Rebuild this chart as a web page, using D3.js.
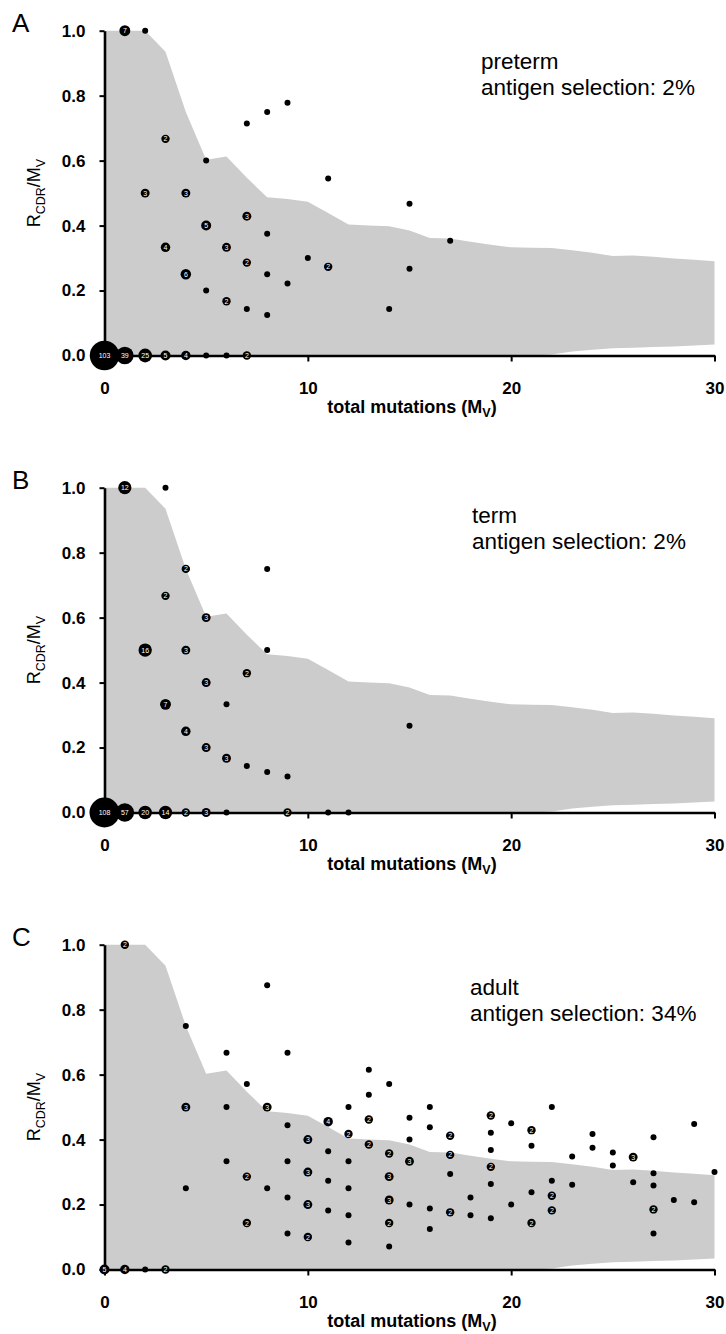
<!DOCTYPE html>
<html>
<head>
<meta charset="utf-8">
<script src="https://d3js.org/d3.v7.min.js"></script>
<style>
body { margin: 0; background: #fff; }
svg { display: block; font-family: "Liberation Sans", Arial, Helvetica, sans-serif; }
</style>
</head>
<body>
<div id="chart"></div>
<script>
// axis ticks
const mutationTicks = [0, 10, 20, 30];
const ratioTicks = [0, 0.2, 0.4, 0.6, 0.8, 1.0];

// grey band (expected range without selection), same in every panel
const bandMutations = [0, 1, 2, 3, 4, 5, 6, 7, 8, 9, 10, 11, 12, 13, 14, 15, 16, 17, 18, 19, 20, 21, 22, 23, 24, 25, 26, 27, 28, 29, 30];
const bandUpper = [1, 1, 1, 0.935, 0.75, 0.603, 0.613, 0.547, 0.487, 0.482, 0.473, 0.439, 0.403, 0.4, 0.398, 0.385, 0.362, 0.36, 0.35, 0.341, 0.333, 0.332, 0.331, 0.324, 0.316, 0.306, 0.308, 0.304, 0.299, 0.295, 0.29];
const bandLower = [0, 0, 0, 0, 0, 0, 0, 0, 0, 0, 0, 0, 0, 0, 0, 0, 0, 0, 0, 0, 0, 0, 0.003, 0.012, 0.018, 0.022, 0.024, 0.026, 0.028, 0.031, 0.034];

// panel titles
const panelLetters = ["A", "B", "C"];
const panelGroups = ["preterm", "term", "adult"];
const panelSelection = ["2%", "2%", "34%"];

// points: [total mutations, R_CDR/M_V, number of sequences]
const pretermPoints = [
  [0, 0, 103], [1, 0, 39], [2, 0, 25], [3, 0, 5], [4, 0, 4], [5, 0, 1], [6, 0, 1], [7, 0, 2],
  [1, 1, 7], [2, 1, 1],
  [2, 0.5, 3], [3, 0.667, 2], [3, 0.333, 4], [4, 0.5, 3], [4, 0.25, 6],
  [5, 0.6, 1], [5, 0.4, 5], [5, 0.2, 1],
  [6, 0.333, 3], [6, 0.167, 2],
  [7, 0.714, 1], [7, 0.429, 3], [7, 0.286, 2], [7, 0.143, 1],
  [8, 0.75, 1], [8, 0.375, 1], [8, 0.25, 1], [8, 0.125, 1],
  [9, 0.778, 1], [9, 0.222, 1],
  [10, 0.3, 1],
  [11, 0.545, 1], [11, 0.273, 2],
  [14, 0.143, 1],
  [15, 0.467, 1], [15, 0.267, 1],
  [17, 0.353, 1]
];

const termPoints = [
  [0, 0, 108], [1, 0, 57], [2, 0, 20], [3, 0, 14], [4, 0, 2], [5, 0, 3], [6, 0, 1], [9, 0, 2], [11, 0, 1], [12, 0, 1],
  [1, 1, 12], [3, 1, 1],
  [2, 0.5, 16], [3, 0.667, 2], [3, 0.333, 7],
  [4, 0.75, 2], [4, 0.5, 3], [4, 0.25, 4],
  [5, 0.6, 3], [5, 0.4, 3], [5, 0.2, 3],
  [6, 0.333, 1], [6, 0.167, 3],
  [7, 0.429, 2], [7, 0.143, 1],
  [8, 0.75, 1], [8, 0.5, 1], [8, 0.125, 1],
  [9, 0.111, 1],
  [15, 0.267, 1]
];

const adultPoints = [
  [0, 0, 5], [1, 0, 4], [2, 0, 1], [3, 0, 2],
  [1, 1, 2],
  [4, 0.75, 1], [4, 0.5, 3], [4, 0.25, 1],
  [6, 0.667, 1], [6, 0.5, 1], [6, 0.333, 1],
  [7, 0.571, 1], [7, 0.286, 2], [7, 0.143, 2],
  [8, 0.875, 1], [8, 0.5, 3], [8, 0.25, 1],
  [9, 0.667, 1], [9, 0.444, 1], [9, 0.333, 1], [9, 0.222, 1], [9, 0.111, 1],
  [10, 0.4, 3], [10, 0.3, 3], [10, 0.2, 3], [10, 0.1, 2],
  [11, 0.455, 4], [11, 0.364, 1], [11, 0.273, 1], [11, 0.182, 1],
  [12, 0.5, 1], [12, 0.417, 2], [12, 0.333, 1], [12, 0.25, 1], [12, 0.167, 1], [12, 0.083, 1],
  [13, 0.615, 1], [13, 0.538, 1], [13, 0.462, 2], [13, 0.385, 2],
  [14, 0.571, 1], [14, 0.357, 2], [14, 0.286, 3], [14, 0.214, 3], [14, 0.143, 2], [14, 0.071, 1],
  [15, 0.467, 1], [15, 0.4, 1], [15, 0.333, 3], [15, 0.2, 1],
  [16, 0.5, 1], [16, 0.438, 1], [16, 0.188, 1], [16, 0.125, 1],
  [17, 0.412, 2], [17, 0.353, 2], [17, 0.294, 1], [17, 0.176, 2],
  [18, 0.222, 1], [18, 0.167, 1],
  [19, 0.474, 2], [19, 0.421, 1], [19, 0.368, 1], [19, 0.316, 2], [19, 0.263, 1], [19, 0.158, 1],
  [20, 0.45, 1], [20, 0.2, 1],
  [21, 0.429, 2], [21, 0.381, 1], [21, 0.238, 1], [21, 0.143, 2],
  [22, 0.5, 1], [22, 0.273, 1], [22, 0.227, 2], [22, 0.182, 2],
  [23, 0.348, 1], [23, 0.261, 1],
  [24, 0.417, 1], [24, 0.375, 1],
  [25, 0.36, 1], [25, 0.32, 1],
  [26, 0.346, 3], [26, 0.269, 1],
  [27, 0.407, 1], [27, 0.296, 1], [27, 0.259, 1], [27, 0.185, 2], [27, 0.111, 1],
  [28, 0.214, 1],
  [29, 0.448, 1], [29, 0.207, 1],
  [30, 0.3, 1]
];

const panelPoints = [pretermPoints, termPoints, adultPoints];

// layout ("top" is taken by window.top, so plotTop)
var width = 726,
    height = 1334,
    panelStep = 457,
    plotLeft = 104.5,
    plotRight = 714.5,
    plotTop = 30.7,
    plotBottom = 355.5;
var noteX = [481, 472, 470];
var noteY = [69, 523, 995];

var svg = d3.select("#chart").append("svg")
    .attr("width", width)
    .attr("height", height);

var x = d3.scaleLinear().domain([0, 30]).range([plotLeft, plotRight]);

// bubble size grows with the count, but flattens in the middle like the original
var radius = d3.scaleLinear()
    .domain([1, 2, 5, 12, 30, 40, 60, 105])
    .range([3, 4.2, 5, 6.6, 7, 9, 9.3, 15])
    .clamp(true);

var band = bandMutations.map(function(m, j) {
  return {m: m, lo: bandLower[j], hi: bandUpper[j]};
});

panelLetters.forEach(function(letter, i) {
  var dy = i * panelStep;
  var y = d3.scaleLinear().domain([0, 1]).range([plotBottom + dy, plotTop + dy]);
  var g = svg.append("g");

  // grey band
  var area = d3.area()
      .x(function(d) { return x(d.m); })
      .y0(function(d) { return y(d.lo); })
      .y1(function(d) { return y(d.hi); });
  g.append("path")
      .datum(band)
      .attr("d", area)
      .attr("fill", "#cccccc");

  // y axis
  var yAxis = g.append("g")
      .attr("transform", "translate(" + plotLeft + ",0)")
      .call(d3.axisLeft(y).tickValues(ratioTicks).tickFormat(d3.format(".1f"))
        .tickSize(5).tickSizeOuter(0).tickPadding(14));

  // x axis
  var xAxis = g.append("g")
      .attr("transform", "translate(0," + (plotBottom + dy) + ")")
      .call(d3.axisBottom(x).tickValues(mutationTicks).tickFormat(d3.format("d"))
        .tickSize(6).tickSizeOuter(0));
  xAxis.selectAll("text").attr("y", 38).attr("dy", null);

  [yAxis, xAxis].forEach(function(ax) {
    ax.attr("font-family", null).attr("font-size", 17).attr("font-weight", "bold");
    ax.select(".domain").attr("stroke", "#000").attr("stroke-width", 2.6);
    ax.selectAll(".tick line").attr("stroke", "#000").attr("stroke-width", 2);
    ax.selectAll("text").attr("fill", "#000");
  });

  // bubbles, circles first so numbers stay visible
  var pts = panelPoints[i];
  g.append("g").selectAll("circle")
      .data(pts)
    .enter().append("circle")
      .attr("cx", function(d) { return x(d[0]); })
      .attr("cy", function(d) { return y(d[1]); })
      .attr("r", function(d) { return radius(d[2]); })
      .attr("fill", "#000");

  g.append("g").selectAll("text")
      .data(pts.filter(function(d) { return d[2] > 1; }))
    .enter().append("text")
      .attr("x", function(d) { return x(d[0]); })
      .attr("y", function(d) { return y(d[1]); })
      .attr("dy", "0.36em")
      .attr("text-anchor", "middle")
      .attr("font-size", 7)
      .attr("fill", "#fff")
      .text(function(d) { return d[2]; });

  // panel letter
  svg.append("text")
      .attr("x", 12)
      .attr("y", 32 + dy)
      .attr("font-size", 26)
      .text(letter);

  // group note
  var note = svg.append("text")
      .attr("font-size", 22.5)
      .attr("fill", "#000");
  note.append("tspan")
      .attr("x", noteX[i])
      .attr("y", noteY[i])
      .text(panelGroups[i]);
  note.append("tspan")
      .attr("x", noteX[i])
      .attr("y", noteY[i] + 26)
      .text("antigen selection: " + panelSelection[i]);

  // y label
  var ylab = svg.append("text")
      .attr("transform", "translate(40," + ((plotTop + plotBottom) / 2 + dy) + ")rotate(-90)")
      .attr("text-anchor", "middle")
      .attr("font-size", 18);
  ylab.append("tspan").text("R");
  ylab.append("tspan").attr("font-size", 12.5).attr("dy", 4.5).text("CDR");
  ylab.append("tspan").attr("dy", -4.5).text("/M");
  ylab.append("tspan").attr("font-size", 12.5).attr("dy", 4.5).text("V");

  // x label
  var xlab = svg.append("text")
      .attr("x", 412)
      .attr("y", 412.5 + dy)
      .attr("text-anchor", "middle")
      .attr("font-size", 18)
      .attr("font-weight", "bold");
  xlab.append("tspan").text("total mutations (M");
  xlab.append("tspan").attr("font-size", 12.5).attr("dy", 4).text("V");
  xlab.append("tspan").attr("dy", -4).text(")");
});
</script>
</body>
</html>
